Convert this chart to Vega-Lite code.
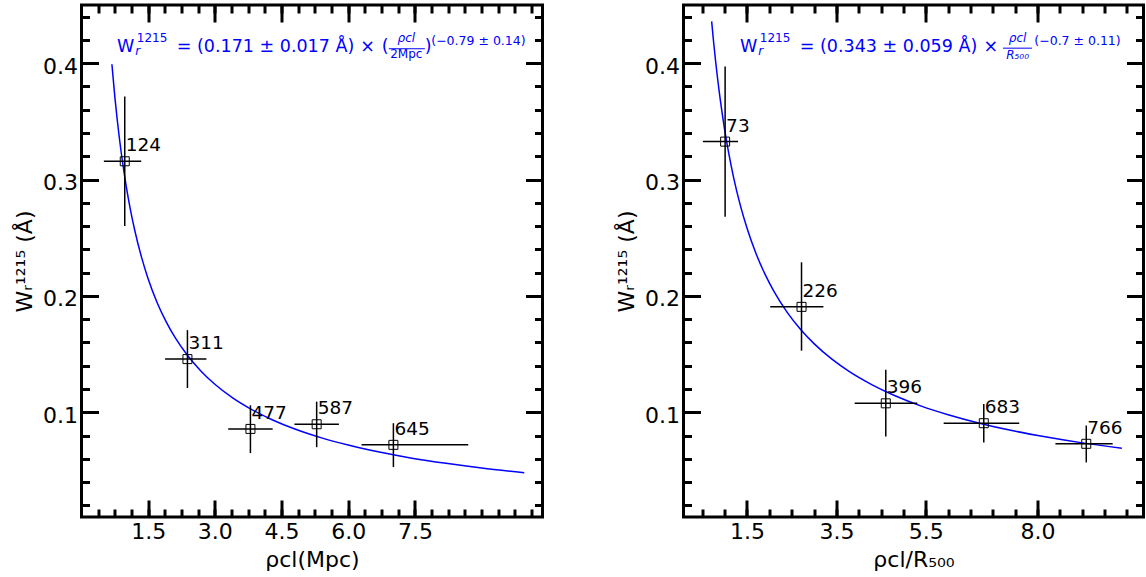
{
  "$schema": "https://vega.github.io/schema/vega-lite/v6.json",
  "padding": {"left": 11.5, "top": 2, "right": 0, "bottom": 0},
  "background": "white",
  "config": {
    "view": {"stroke": "black", "strokeWidth": 3},
    "font": "DejaVu Sans",
    "axis": {
      "domain": false, "grid": false, "tickColor": "black", "tickWidth": 3,
      "labelColor": "black", "labelFont": "DejaVu Sans", "labelFontSize": 22,
      "titleFont": "DejaVu Sans", "titleFontSize": 22, "titleFontWeight": "normal", "titleColor": "black"
    }
  },
  "spacing": 68,
  "datasets": {
    "curveL": [
      {"x": 0.684, "y": 0.3991}, {"x": 0.75, "y": 0.3711}, {"x": 0.8, "y": 0.3527}, {"x": 0.9, "y": 0.3213},
      {"x": 1.0, "y": 0.2957}, {"x": 1.1, "y": 0.2742}, {"x": 1.2, "y": 0.256}, {"x": 1.35, "y": 0.2333},
      {"x": 1.5, "y": 0.2146}, {"x": 1.7, "y": 0.1944}, {"x": 1.9, "y": 0.1781}, {"x": 2.1, "y": 0.1645},
      {"x": 2.4, "y": 0.1481}, {"x": 2.7, "y": 0.1349}, {"x": 3.0, "y": 0.1241}, {"x": 3.4, "y": 0.1124},
      {"x": 3.8, "y": 0.103}, {"x": 4.3, "y": 0.0934}, {"x": 4.8, "y": 0.0856}, {"x": 5.4, "y": 0.078},
      {"x": 6.0, "y": 0.0718}, {"x": 6.7, "y": 0.0658}, {"x": 7.4, "y": 0.0608}, {"x": 8.2, "y": 0.0561},
      {"x": 9.0, "y": 0.0521}, {"x": 9.96, "y": 0.0481}
    ],
    "curveR": [
      {"x": 0.71, "y": 0.4359}, {"x": 0.75, "y": 0.4195}, {"x": 0.8, "y": 0.401}, {"x": 0.9, "y": 0.3693},
      {"x": 1.0, "y": 0.343}, {"x": 1.1, "y": 0.3209}, {"x": 1.2, "y": 0.3019}, {"x": 1.35, "y": 0.278},
      {"x": 1.5, "y": 0.2583}, {"x": 1.7, "y": 0.2366}, {"x": 1.9, "y": 0.2189}, {"x": 2.1, "y": 0.2041},
      {"x": 2.4, "y": 0.1858}, {"x": 2.7, "y": 0.1711}, {"x": 3.0, "y": 0.159}, {"x": 3.4, "y": 0.1456},
      {"x": 3.8, "y": 0.1347}, {"x": 4.3, "y": 0.1236}, {"x": 4.8, "y": 0.1144}, {"x": 5.4, "y": 0.1053},
      {"x": 6.0, "y": 0.0979}, {"x": 6.7, "y": 0.0906}, {"x": 7.4, "y": 0.0845}, {"x": 8.2, "y": 0.0787},
      {"x": 9.0, "y": 0.0737}, {"x": 9.886, "y": 0.069}
    ],
    "ptsL": [
      {"x": 0.973, "xlo": 0.503, "xhi": 1.344, "y": 0.3157, "ylo": 0.26, "yhi": 0.3714, "n": "124"},
      {"x": 2.383, "xlo": 1.88, "xhi": 2.81, "y": 0.1457, "ylo": 0.1209, "yhi": 0.1706, "n": "311"},
      {"x": 3.8, "xlo": 3.3, "xhi": 4.3, "y": 0.0857, "ylo": 0.0649, "yhi": 0.106, "n": "477"},
      {"x": 5.29, "xlo": 4.79, "xhi": 5.79, "y": 0.0897, "ylo": 0.07, "yhi": 0.1091, "n": "587"},
      {"x": 7.016, "xlo": 6.3, "xhi": 8.7, "y": 0.072, "ylo": 0.0529, "yhi": 0.0906, "n": "645"}
    ],
    "ptsR": [
      {"x": 1.011, "xlo": 0.514, "xhi": 1.3, "y": 0.3326, "ylo": 0.268, "yhi": 0.3971, "n": "73"},
      {"x": 2.72, "xlo": 2.02, "xhi": 3.21, "y": 0.1906, "ylo": 0.1529, "yhi": 0.2289, "n": "226"},
      {"x": 4.605, "xlo": 3.91, "xhi": 5.31, "y": 0.1077, "ylo": 0.0791, "yhi": 0.1366, "n": "396"},
      {"x": 6.797, "xlo": 5.9, "xhi": 7.59, "y": 0.0906, "ylo": 0.074, "yhi": 0.1071, "n": "683"},
      {"x": 9.09, "xlo": 8.4, "xhi": 9.68, "y": 0.0729, "ylo": 0.0569, "yhi": 0.0886, "n": "766"}
    ],
    "annL": [
      {"k": "big", "x": 0.801, "y": 0.41, "t": "W"},
      {"k": "sub", "x": 1.21, "y": 0.4068, "t": "r"},
      {"k": "sup", "x": 1.244, "y": 0.4185, "t": "1215"},
      {"k": "big", "x": 2.144, "y": 0.41, "t": "= (0.171 ± 0.017 Å)"},
      {"k": "big", "x": 6.272, "y": 0.41, "t": "×"},
      {"k": "big", "x": 6.756, "y": 0.41, "t": "("},
      {"k": "num", "x": 7.306, "y": 0.418, "t": "ρcl"},
      {"k": "den", "x": 7.306, "y": 0.4046, "t": "2Mpc"},
      {"k": "big", "x": 7.724, "y": 0.41, "t": ")"},
      {"k": "small", "x": 7.868, "y": 0.416, "t": "(−0.79 ± 0.14)"},
      {"k": "line", "x": 6.913, "x2": 7.724, "y": 0.4124}
    ],
    "annR": [
      {"k": "big", "x": 1.345, "y": 0.41, "t": "W"},
      {"k": "sub", "x": 1.753, "y": 0.4068, "t": "r"},
      {"k": "sup", "x": 1.787, "y": 0.4185, "t": "1215"},
      {"k": "big", "x": 2.682, "y": 0.41, "t": "= (0.343 ± 0.059 Å)"},
      {"k": "big", "x": 6.79, "y": 0.41, "t": "×"},
      {"k": "num", "x": 7.553, "y": 0.418, "t": "ρcl"},
      {"k": "den", "x": 7.553, "y": 0.4039, "t": "R₅₀₀"},
      {"k": "small", "x": 7.928, "y": 0.416, "t": "(−0.7 ± 0.11)"},
      {"k": "line", "x": 7.228, "x2": 7.877, "y": 0.4129}
    ]
  },
  "hconcat": [
    {
      "width": 461, "height": 512,
      "resolve": {"axis": {"x": "independent", "y": "independent"}},
      "layer": [
        {
          "data": {"name": "curveL"},
          "mark": {"type": "line", "color": "#0000ff", "strokeWidth": 1.5, "interpolate": "monotone"},
          "encoding": {
            "x": {"field": "x", "type": "quantitative", "scale": {"domain": [0, 10.37], "nice": false, "zero": false},
              "axis": {"orient": "bottom", "values": [1.5, 3, 4.5, 6, 7.5], "format": ".1f", "tickSize": -17, "labelPadding": 21, "title": "ρcl(Mpc)", "titlePadding": 7}},
            "y": {"field": "y", "type": "quantitative", "scale": {"domain": [0.01, 0.45], "nice": false, "zero": false},
              "axis": {"orient": "left", "values": [0.1, 0.2, 0.3, 0.4], "format": ".1f", "tickSize": -17, "labelPadding": 21, "labelOffset": 3, "title": "Wᵣ¹²¹⁵ (Å)", "titlePadding": 6}}
          }
        },
        {
          "data": {"name": "ptsL"},
          "mark": {"type": "rule", "color": "black", "strokeWidth": 1.5},
          "encoding": {
            "x": {"field": "xlo", "type": "quantitative", "scale": {"domain": [0, 10.37], "nice": false, "zero": false},
              "axis": {"orient": "top", "values": [1.5, 3, 4.5, 6, 7.5], "tickSize": -17, "labels": false, "title": null}},
            "x2": {"field": "xhi"},
            "y": {"field": "y", "type": "quantitative", "scale": {"domain": [0.01, 0.45], "nice": false, "zero": false},
              "axis": {"orient": "right", "values": [0.1, 0.2, 0.3, 0.4], "tickSize": -17, "labels": false, "title": null}}
          }
        },
        {
          "data": {"name": "ptsL"},
          "mark": {"type": "rule", "color": "black", "strokeWidth": 1.5},
          "encoding": {
            "x": {"field": "x", "type": "quantitative", "scale": {"domain": [0, 10.37], "nice": false, "zero": false},
              "axis": {"orient": "bottom", "values": [0.375, 0.75, 1.125, 1.5, 1.875, 2.25, 2.625, 3, 3.375, 3.75, 4.125, 4.5, 4.875, 5.25, 5.625, 6, 6.375, 6.75, 7.125, 7.5, 7.875, 8.25, 8.625, 9, 9.375, 9.75, 10.125], "tickSize": -8, "labels": false, "title": null}},
            "y": {"field": "ylo", "type": "quantitative", "scale": {"domain": [0.01, 0.45], "nice": false, "zero": false},
              "axis": {"orient": "left", "values": [0.02, 0.04, 0.06, 0.08, 0.1, 0.12, 0.14, 0.16, 0.18, 0.2, 0.22, 0.24, 0.26, 0.28, 0.3, 0.32, 0.34, 0.36, 0.38, 0.4, 0.42, 0.44], "tickSize": -8, "labels": false, "title": null}},
            "y2": {"field": "yhi"}
          }
        },
        {
          "data": {"name": "ptsL"},
          "mark": {"type": "point", "shape": "square", "size": 81, "filled": false, "stroke": "black", "strokeWidth": 1, "opacity": 1},
          "encoding": {
            "x": {"field": "x", "type": "quantitative", "scale": {"domain": [0, 10.37], "nice": false, "zero": false},
              "axis": {"orient": "top", "values": [0.375, 0.75, 1.125, 1.5, 1.875, 2.25, 2.625, 3, 3.375, 3.75, 4.125, 4.5, 4.875, 5.25, 5.625, 6, 6.375, 6.75, 7.125, 7.5, 7.875, 8.25, 8.625, 9, 9.375, 9.75, 10.125], "tickSize": -8, "labels": false, "title": null}},
            "y": {"field": "y", "type": "quantitative", "scale": {"domain": [0.01, 0.45], "nice": false, "zero": false},
              "axis": {"orient": "right", "values": [0.02, 0.04, 0.06, 0.08, 0.1, 0.12, 0.14, 0.16, 0.18, 0.2, 0.22, 0.24, 0.26, 0.28, 0.3, 0.32, 0.34, 0.36, 0.38, 0.4, 0.42, 0.44], "tickSize": -8, "labels": false, "title": null}}
          }
        },
        {
          "data": {"name": "ptsL"},
          "mark": {"type": "text", "align": "left", "baseline": "alphabetic", "dx": 1, "dy": -10, "fontSize": 18.5, "color": "black"},
          "encoding": {
            "x": {"field": "x", "type": "quantitative", "axis": null},
            "y": {"field": "y", "type": "quantitative", "axis": null},
            "text": {"field": "n"}
          }
        },
        {
          "data": {"name": "annL"},
          "transform": [{"filter": "datum.k == 'big'"}],
          "mark": {"type": "text", "align": "left", "baseline": "alphabetic", "fontSize": 17.5, "color": "#0000ff"},
          "encoding": {"x": {"field": "x", "type": "quantitative", "axis": null}, "y": {"field": "y", "type": "quantitative", "axis": null}, "text": {"field": "t"}}
        },
        {
          "data": {"name": "annL"},
          "transform": [{"filter": "datum.k == 'small'"}],
          "mark": {"type": "text", "align": "left", "baseline": "alphabetic", "fontSize": 12.5, "color": "#0000ff"},
          "encoding": {"x": {"field": "x", "type": "quantitative", "axis": null}, "y": {"field": "y", "type": "quantitative", "axis": null}, "text": {"field": "t"}}
        },
        {
          "data": {"name": "annL"},
          "transform": [{"filter": "datum.k == 'sup'"}],
          "mark": {"type": "text", "align": "left", "baseline": "alphabetic", "fontSize": 12, "color": "#0000ff"},
          "encoding": {"x": {"field": "x", "type": "quantitative", "axis": null}, "y": {"field": "y", "type": "quantitative", "axis": null}, "text": {"field": "t"}}
        },
        {
          "data": {"name": "annL"},
          "transform": [{"filter": "datum.k == 'sub'"}],
          "mark": {"type": "text", "align": "left", "baseline": "alphabetic", "fontSize": 12, "fontStyle": "italic", "color": "#0000ff"},
          "encoding": {"x": {"field": "x", "type": "quantitative", "axis": null}, "y": {"field": "y", "type": "quantitative", "axis": null}, "text": {"field": "t"}}
        },
        {
          "data": {"name": "annL"},
          "transform": [{"filter": "datum.k == 'num'"}],
          "mark": {"type": "text", "align": "center", "baseline": "alphabetic", "fontSize": 12, "fontStyle": "italic", "color": "#0000ff"},
          "encoding": {"x": {"field": "x", "type": "quantitative", "axis": null}, "y": {"field": "y", "type": "quantitative", "axis": null}, "text": {"field": "t"}}
        },
        {
          "data": {"name": "annL"},
          "transform": [{"filter": "datum.k == 'den'"}],
          "mark": {"type": "text", "align": "center", "baseline": "alphabetic", "fontSize": 12, "color": "#0000ff"},
          "encoding": {"x": {"field": "x", "type": "quantitative", "axis": null}, "y": {"field": "y", "type": "quantitative", "axis": null}, "text": {"field": "t"}}
        },
        {
          "data": {"name": "annL"},
          "transform": [{"filter": "datum.k == 'line'"}],
          "mark": {"type": "rule", "color": "#0000ff", "strokeWidth": 1},
          "encoding": {"x": {"field": "x", "type": "quantitative", "axis": null}, "x2": {"field": "x2"}, "y": {"field": "y", "type": "quantitative", "axis": null}}
        }
      ]
    },
    {
      "width": 460, "height": 512,
      "resolve": {"axis": {"x": "independent", "y": "independent"}},
      "layer": [
        {
          "data": {"name": "curveR"},
          "mark": {"type": "line", "color": "#0000ff", "strokeWidth": 1.5, "interpolate": "monotone"},
          "encoding": {
            "x": {"field": "x", "type": "quantitative", "scale": {"domain": [0.08, 10.37], "nice": false, "zero": false},
              "axis": {"orient": "bottom", "values": [1.5, 3.5, 5.5, 8], "format": ".1f", "tickSize": -17, "labelPadding": 21, "title": "ρcl/R₅₀₀", "titlePadding": 7}},
            "y": {"field": "y", "type": "quantitative", "scale": {"domain": [0.01, 0.45], "nice": false, "zero": false},
              "axis": {"orient": "left", "values": [0.1, 0.2, 0.3, 0.4], "format": ".1f", "tickSize": -17, "labelPadding": 21, "labelOffset": 3, "title": "Wᵣ¹²¹⁵ (Å)", "titlePadding": 6}}
          }
        },
        {
          "data": {"name": "ptsR"},
          "mark": {"type": "rule", "color": "black", "strokeWidth": 1.5},
          "encoding": {
            "x": {"field": "xlo", "type": "quantitative", "scale": {"domain": [0.08, 10.37], "nice": false, "zero": false},
              "axis": {"orient": "top", "values": [1.5, 3.5, 5.5, 8], "tickSize": -17, "labels": false, "title": null}},
            "x2": {"field": "xhi"},
            "y": {"field": "y", "type": "quantitative", "scale": {"domain": [0.01, 0.45], "nice": false, "zero": false},
              "axis": {"orient": "right", "values": [0.1, 0.2, 0.3, 0.4], "tickSize": -17, "labels": false, "title": null}}
          }
        },
        {
          "data": {"name": "ptsR"},
          "mark": {"type": "rule", "color": "black", "strokeWidth": 1.5},
          "encoding": {
            "x": {"field": "x", "type": "quantitative", "scale": {"domain": [0.08, 10.37], "nice": false, "zero": false},
              "axis": {"orient": "bottom", "values": [0.5, 1, 1.5, 2, 2.5, 3, 3.5, 4, 4.5, 5, 5.5, 6, 6.5, 7, 7.5, 8, 8.5, 9, 9.5, 10], "tickSize": -8, "labels": false, "title": null}},
            "y": {"field": "ylo", "type": "quantitative", "scale": {"domain": [0.01, 0.45], "nice": false, "zero": false},
              "axis": {"orient": "left", "values": [0.02, 0.04, 0.06, 0.08, 0.1, 0.12, 0.14, 0.16, 0.18, 0.2, 0.22, 0.24, 0.26, 0.28, 0.3, 0.32, 0.34, 0.36, 0.38, 0.4, 0.42, 0.44], "tickSize": -8, "labels": false, "title": null}},
            "y2": {"field": "yhi"}
          }
        },
        {
          "data": {"name": "ptsR"},
          "mark": {"type": "point", "shape": "square", "size": 81, "filled": false, "stroke": "black", "strokeWidth": 1, "opacity": 1},
          "encoding": {
            "x": {"field": "x", "type": "quantitative", "scale": {"domain": [0.08, 10.37], "nice": false, "zero": false},
              "axis": {"orient": "top", "values": [0.5, 1, 1.5, 2, 2.5, 3, 3.5, 4, 4.5, 5, 5.5, 6, 6.5, 7, 7.5, 8, 8.5, 9, 9.5, 10], "tickSize": -8, "labels": false, "title": null}},
            "y": {"field": "y", "type": "quantitative", "scale": {"domain": [0.01, 0.45], "nice": false, "zero": false},
              "axis": {"orient": "right", "values": [0.02, 0.04, 0.06, 0.08, 0.1, 0.12, 0.14, 0.16, 0.18, 0.2, 0.22, 0.24, 0.26, 0.28, 0.3, 0.32, 0.34, 0.36, 0.38, 0.4, 0.42, 0.44], "tickSize": -8, "labels": false, "title": null}}
          }
        },
        {
          "data": {"name": "ptsR"},
          "mark": {"type": "text", "align": "left", "baseline": "alphabetic", "dx": 1, "dy": -10, "fontSize": 18.5, "color": "black"},
          "encoding": {
            "x": {"field": "x", "type": "quantitative", "axis": null},
            "y": {"field": "y", "type": "quantitative", "axis": null},
            "text": {"field": "n"}
          }
        },
        {
          "data": {"name": "annR"},
          "transform": [{"filter": "datum.k == 'big'"}],
          "mark": {"type": "text", "align": "left", "baseline": "alphabetic", "fontSize": 17.5, "color": "#0000ff"},
          "encoding": {"x": {"field": "x", "type": "quantitative", "axis": null}, "y": {"field": "y", "type": "quantitative", "axis": null}, "text": {"field": "t"}}
        },
        {
          "data": {"name": "annR"},
          "transform": [{"filter": "datum.k == 'small'"}],
          "mark": {"type": "text", "align": "left", "baseline": "alphabetic", "fontSize": 12.5, "color": "#0000ff"},
          "encoding": {"x": {"field": "x", "type": "quantitative", "axis": null}, "y": {"field": "y", "type": "quantitative", "axis": null}, "text": {"field": "t"}}
        },
        {
          "data": {"name": "annR"},
          "transform": [{"filter": "datum.k == 'sup'"}],
          "mark": {"type": "text", "align": "left", "baseline": "alphabetic", "fontSize": 12, "color": "#0000ff"},
          "encoding": {"x": {"field": "x", "type": "quantitative", "axis": null}, "y": {"field": "y", "type": "quantitative", "axis": null}, "text": {"field": "t"}}
        },
        {
          "data": {"name": "annR"},
          "transform": [{"filter": "datum.k == 'sub'"}],
          "mark": {"type": "text", "align": "left", "baseline": "alphabetic", "fontSize": 12, "fontStyle": "italic", "color": "#0000ff"},
          "encoding": {"x": {"field": "x", "type": "quantitative", "axis": null}, "y": {"field": "y", "type": "quantitative", "axis": null}, "text": {"field": "t"}}
        },
        {
          "data": {"name": "annR"},
          "transform": [{"filter": "datum.k == 'num' || datum.k == 'den'"}],
          "mark": {"type": "text", "align": "center", "baseline": "alphabetic", "fontSize": 12, "fontStyle": "italic", "color": "#0000ff"},
          "encoding": {"x": {"field": "x", "type": "quantitative", "axis": null}, "y": {"field": "y", "type": "quantitative", "axis": null}, "text": {"field": "t"}}
        },
        {
          "data": {"name": "annR"},
          "transform": [{"filter": "datum.k == 'line'"}],
          "mark": {"type": "rule", "color": "#0000ff", "strokeWidth": 1},
          "encoding": {"x": {"field": "x", "type": "quantitative", "axis": null}, "x2": {"field": "x2"}, "y": {"field": "y", "type": "quantitative", "axis": null}}
        }
      ]
    }
  ]
}
